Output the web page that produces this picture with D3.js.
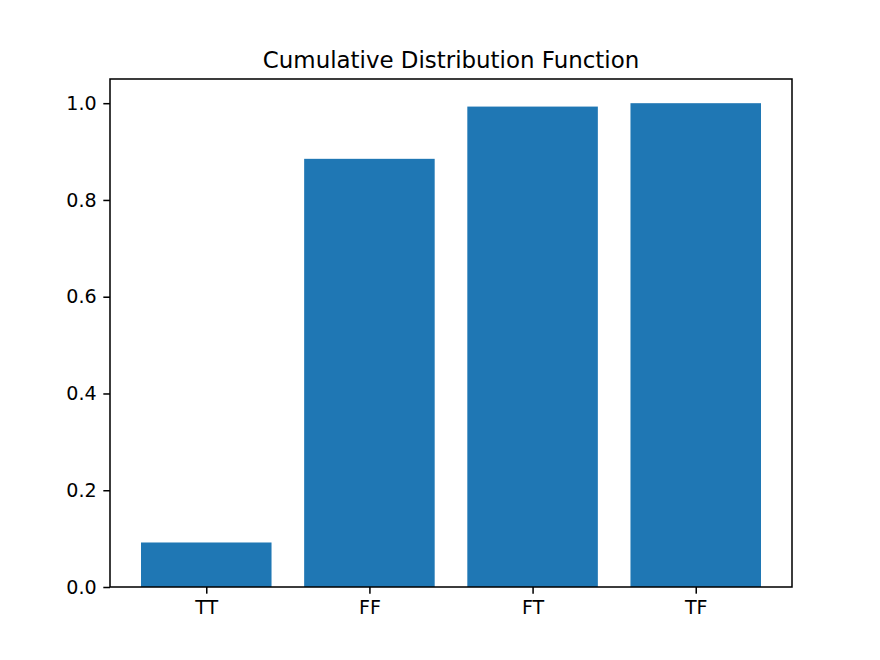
<!DOCTYPE html>
<html>
<head>
<meta charset="utf-8">
<script src="https://cdn.jsdelivr.net/npm/d3@7"></script>
<style>
  body { margin: 0; background: #fff; }
  text { font-family: "DejaVu Sans", sans-serif; }
</style>
</head>
<body>
<div id="chart"></div>
<script>
const width = 880;
const height = 660;

// data
const categories = ["TT", "FF", "FT", "TF"];
const values = [0.092, 0.885, 0.993, 1.0];
const yTicks = [0.0, 0.2, 0.4, 0.6, 0.8, 1.0];

// figure is 6.4x4.8in at 137.5 dpi -> 1pt = 1.91px
const pt = 137.5 / 72;

const margin = { left: 110, right: 88, top: 79, bottom: 73 };
const innerW = width - margin.left - margin.right;
const innerH = height - margin.top - margin.bottom;

const svg = d3.select("#chart")
    .append("svg")
    .attr("width", width)
    .attr("height", height);

// x scale in bar index units, like matplotlib (-0.59 .. 3.59)
const x = d3.scaleLinear()
    .domain([-0.59, categories.length - 1 + 0.59])
    .range([margin.left, margin.left + innerW]);

const y = d3.scaleLinear()
    .domain([0, 1.05])
    .range([margin.top + innerH, margin.top]);

const barW = 0.8;

// bars
svg.selectAll(".bar")
    .data(values)
    .enter()
    .append("rect")
    .attr("x", (d, i) => x(i - barW / 2))
    .attr("width", (d, i) => x(i + barW / 2) - x(i - barW / 2))
    .attr("y", d => y(d))
    .attr("height", d => y(0) - y(d))
    .attr("fill", "#1f77b4");

// axes
const xAxis = d3.axisBottom(x)
    .tickValues(d3.range(categories.length))
    .tickFormat(i => categories[i])
    .tickSize(3.5 * pt)
    .tickPadding(3.5 * pt);

const yAxis = d3.axisLeft(y)
    .tickValues(yTicks)
    .tickFormat(d3.format(".1f"))
    .tickSize(3.5 * pt)
    .tickPadding(3.5 * pt);

const gx = svg.append("g")
    .attr("transform", `translate(0,${margin.top + innerH})`)
    .call(xAxis);

const gy = svg.append("g")
    .attr("transform", `translate(${margin.left},0)`)
    .call(yAxis);

[gx, gy].forEach(g => {
    g.attr("font-size", null).attr("font-family", null);
    g.select(".domain").remove();
    g.selectAll("line").attr("stroke", "#000").attr("stroke-width", 0.8 * pt);
    g.selectAll("text")
        .attr("fill", "#000")
        .style("font-size", (10 * pt) + "px");
});

// frame
svg.append("rect")
    .attr("x", margin.left)
    .attr("y", margin.top)
    .attr("width", innerW)
    .attr("height", innerH)
    .attr("fill", "none")
    .attr("stroke", "#000")
    .attr("stroke-width", 0.8 * pt);

// title
svg.append("text")
    .attr("x", margin.left + innerW / 2)
    .attr("y", margin.top - 6 * pt)
    .attr("text-anchor", "middle")
    .style("font-size", (12 * pt) + "px")
    .attr("fill", "#000")
    .text("Cumulative Distribution Function");
</script>
</body>
</html>
